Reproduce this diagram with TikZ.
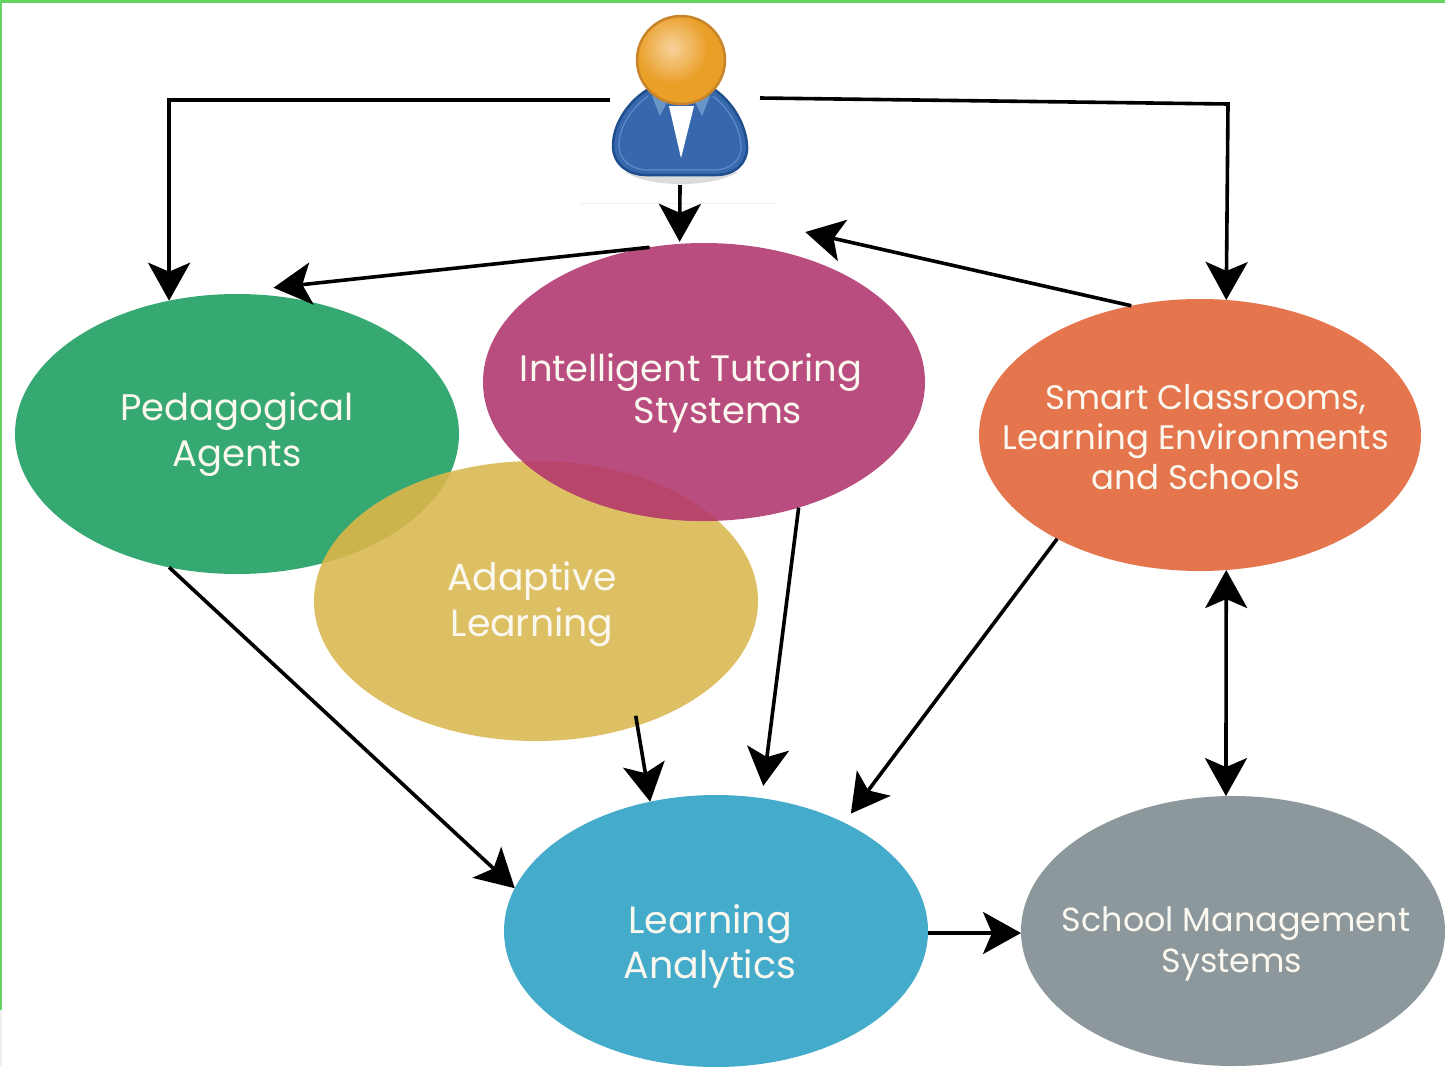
\documentclass[tikz,border=0pt]{standalone}
\usepackage{fontspec}
\setmainfont{Poppins}
\usetikzlibrary{arrows.meta,shapes.geometric}
\definecolor{cgreen}{HTML}{36A872}
\definecolor{cpink}{HTML}{B94D7F}
\definecolor{cyellow}{HTML}{DEC064}
\definecolor{corange}{HTML}{E4754D}
\definecolor{cblue}{HTML}{45ABCB}
\definecolor{cgray}{HTML}{8D989C}
\definecolor{lensy}{HTML}{CBB44C}
\definecolor{lensp}{HTML}{B8466A}
\definecolor{frameg}{HTML}{66D45E}
\definecolor{ctext}{HTML}{FBF8F0}
\definecolor{suit}{HTML}{3768AE}
\definecolor{suitdk}{HTML}{204E8C}
\definecolor{suitlt}{HTML}{5F8AC4}
\definecolor{collar}{HTML}{6996C8}
\definecolor{headlt}{HTML}{F7D29C}
\definecolor{headmd}{HTML}{EA9F28}
\definecolor{headdk}{HTML}{C8842A}
\tikzset{
  blob/.style={ellipse,draw=none,inner sep=0pt,outer sep=0pt},
  lbl/.style 2 args={align=center,text=ctext,inner sep=0pt,font=\fontsize{#1}{#2}\selectfont},
  lnk/.style={line width=3.6pt,draw=black,-{Stealth[length=38pt,width=42pt,inset=9pt]}},
  lnkk/.style={line width=3.6pt,draw=black,{Stealth[length=38pt,width=42pt,inset=9pt]}-{Stealth[length=38pt,width=42pt,inset=9pt]}}
}
\begin{document}
\begin{tikzpicture}[x=1pt,y=-1pt]
\useasboundingbox (0,0) rectangle (1445,1066);
\fill[white] (0,0) rectangle (1445,1066);
\fill[frameg] (0,0) rectangle (1445,3);
\fill[frameg] (0,0) rectangle (2,1010);
\fill[black!6] (0,1010) rectangle (2,1066);
\draw[black!5,line width=1pt] (580,203) -- (775,203);
% ellipses
\node[blob,fill=cgreen,minimum width=444pt,minimum height=280pt] (ped) at (237,434) {};
\node[blob,fill=cyellow,minimum width=444pt,minimum height=280pt] (ada) at (536,601) {};
\begin{scope}
  \clip (237,434) ellipse [x radius=222pt,y radius=140pt];
  \fill[lensy] (536,601) ellipse [x radius=222pt,y radius=140pt];
\end{scope}
\node[blob,fill=cpink,minimum width=442pt,minimum height=278pt] (its) at (704,382) {};
\begin{scope}
  \clip (536,601) ellipse [x radius=222pt,y radius=140pt];
  \fill[lensp] (704,382) ellipse [x radius=221pt,y radius=139pt];
\end{scope}
\node[blob,fill=corange,minimum width=442pt,minimum height=272pt] (smart) at (1200,435) {};
\node[blob,fill=cblue,minimum width=424pt,minimum height=272pt] (la) at (716,931) {};
\node[blob,fill=cgray,minimum width=424pt,minimum height=270pt] (sms) at (1233,931) {};
% labels
\node[lbl={37}{46}] (pedt) at (237,434) {Pedagogical\\Agents};
\node[lbl={36.8}{42}] (itst) at (691,393) {Intelligent Tutoring\\\hspace*{54pt}Stystems};
\node[lbl={37.8}{46}] (adat) at (532,604) {Adaptive\\Learning};
\node[lbl={34}{40}] (smartt) at (1196,437) {\hspace*{20pt}Smart Classrooms,\\Learning Environments\\and Schools};
\node[lbl={38}{45}] (lat) at (710,946) {Learning\\Analytics};
\node[lbl={33.4}{41}] (smst) at (1236,944) {School Management\\\hspace*{-8pt}Systems};
% person figure
\fill[black!35,opacity=.4] (625,172) .. controls (650,188) and (712,188) .. (738,172) -- cycle;
\path[fill=suit,draw=suitdk,line width=2.5pt]
  (647,90) .. controls (628,102) and (613,124) .. (613,146)
  .. controls (613,164) and (628,175) .. (646,175)
  -- (716,175) .. controls (734,175) and (748,164) .. (747,146)
  .. controls (746,124) and (732,102) .. (715,90) -- cycle;
\draw[suitlt,line width=1.2pt]
  (648,96) .. controls (632,108) and (619,126) .. (619,146)
  .. controls (619,160) and (632,170) .. (648,170) -- (714,170)
  .. controls (730,170) and (742,160) .. (741,146)
  .. controls (740,126) and (728,108) .. (713,96);
\fill[white] (669,106) -- (694,106) -- (681,158) -- cycle;
\fill[collar] (652,96) -- (667,102) -- (660,116) -- cycle;
\fill[collar] (710,96) -- (695,102) -- (702,116) -- cycle;
\begin{scope}
  \clip (681,60) circle [radius=44pt];
  \fill[headmd] (681,60) circle [radius=44pt];
  \shade[inner color=headlt,outer color=headmd] (672,48) circle [radius=36pt];
\end{scope}
\draw[headdk,line width=2.5pt] (681,60) circle [radius=44pt];
\node[minimum width=150pt,minimum height=170pt,inner sep=0pt,outer sep=0pt] (person) at (685,100) {};
\coordinate (rightcorner) at (1228,104);
% connectors
\draw[lnk] (person.west) -| (ped.117);
\draw[lnk] ([yshift=2pt]person.east) -- (rightcorner) -- (smart.79);
\draw[lnk] ([xshift=-5pt]person.south) -- ([yshift=2pt]its.100);
\draw[lnk] (its.112) -- ([xshift=2pt,yshift=8pt]ped.76);
\draw[lnk] (smart.118) -- ([xshift=15pt,yshift=22pt]its.56);
\draw[lnk] (ped.243) -- (la.168);
\draw[lnk] (its.-53) -- ([xshift=4pt,yshift=12pt]la.72);
\draw[lnk] ([xshift=-7pt,yshift=8pt]ada.-49) -- (la.117);
\draw[lnk] (smart.216) -- ([xshift=9pt,yshift=8pt]la.41);
\draw[lnkk] (smart.-79) -- (sms.93);
\draw[lnk] ([yshift=-2pt]la.east) -- ([yshift=-2pt]sms.west);
\end{tikzpicture}
\end{document}
